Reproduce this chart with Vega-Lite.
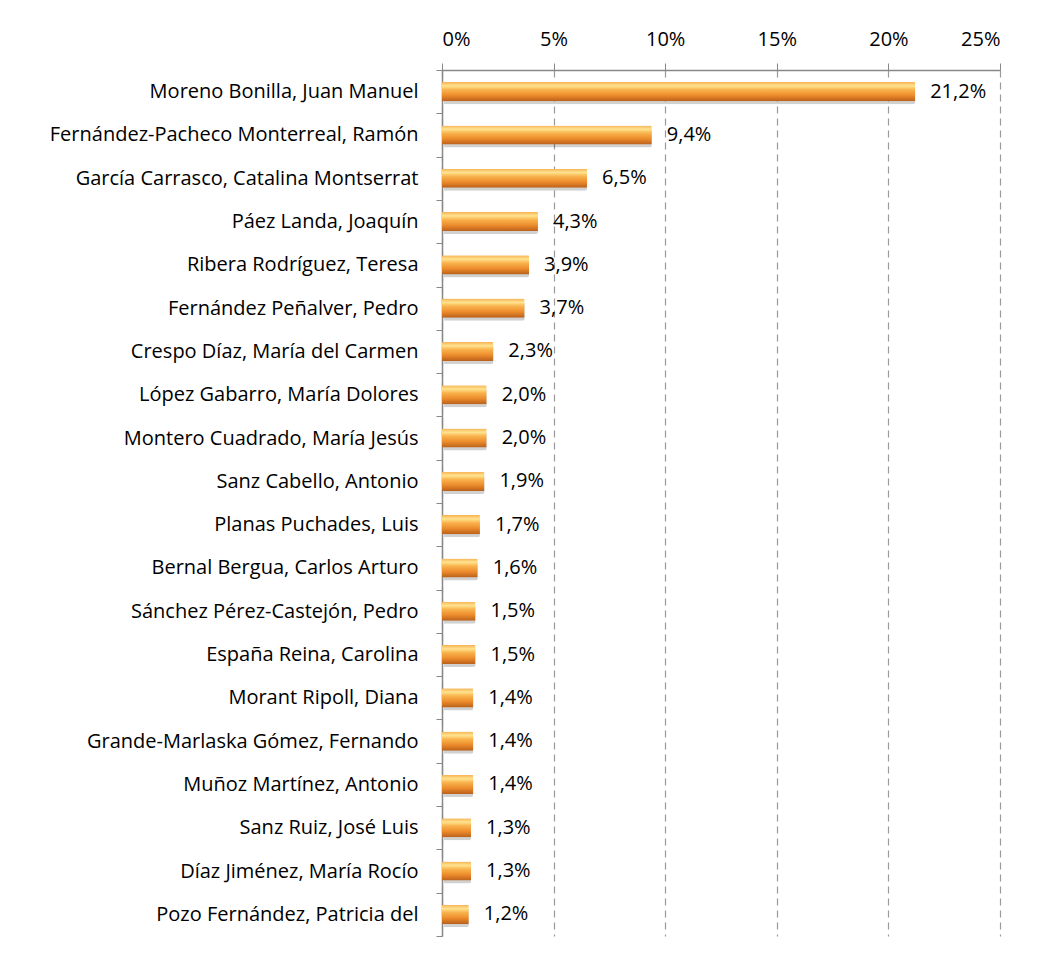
{
  "$schema": "https://vega.github.io/schema/vega-lite/v6.json",
  "width": 558,
  "height": 866,
  "autosize": {"type": "none"},
  "padding": {"left": 442, "top": 70, "right": 38, "bottom": 21},
  "background": "white",
  "config": {
    "locale": {"number": {"decimal": ",", "thousands": ".", "grouping": [3], "currency": ["", " €"]}},
    "view": {"stroke": null},
    "font": "Open Sans"
  },
  "data": {
    "values": [
      {"name": "Moreno Bonilla, Juan Manuel", "v": 0.212},
      {"name": "Fernández-Pacheco Monterreal, Ramón", "v": 0.094},
      {"name": "García Carrasco, Catalina Montserrat", "v": 0.065},
      {"name": "Páez Landa, Joaquín", "v": 0.043},
      {"name": "Ribera Rodríguez, Teresa", "v": 0.039},
      {"name": "Fernández Peñalver, Pedro", "v": 0.037},
      {"name": "Crespo Díaz, María del Carmen", "v": 0.023},
      {"name": "López Gabarro, María Dolores", "v": 0.020},
      {"name": "Montero Cuadrado, María Jesús", "v": 0.020},
      {"name": "Sanz Cabello, Antonio", "v": 0.019},
      {"name": "Planas Puchades, Luis", "v": 0.017},
      {"name": "Bernal Bergua, Carlos Arturo", "v": 0.016},
      {"name": "Sánchez Pérez-Castejón, Pedro", "v": 0.015},
      {"name": "España Reina, Carolina", "v": 0.015},
      {"name": "Morant Ripoll, Diana", "v": 0.014},
      {"name": "Grande-Marlaska Gómez, Fernando", "v": 0.014},
      {"name": "Muñoz Martínez, Antonio", "v": 0.014},
      {"name": "Sanz Ruiz, José Luis", "v": 0.013},
      {"name": "Díaz Jiménez, María Rocío", "v": 0.013},
      {"name": "Pozo Fernández, Patricia del", "v": 0.012}
    ]
  },
  "encoding": {
    "y": {
      "field": "name", "type": "nominal", "sort": null, "title": null,
      "scale": {"paddingInner": 0, "paddingOuter": 0},
      "axis": {
        "tickBand": "extent", "tickSize": 6, "tickColor": "#888888", "domainColor": "#888888",
        "domainWidth": 1.5, "labelPadding": 18, "labelFontSize": 20, "labelColor": "#000000",
        "labelFont": "Open Sans", "grid": false, "labelLimit": 500
      }
    },
    "x": {
      "field": "v", "type": "quantitative", "title": null,
      "scale": {"domain": [0, 0.25], "nice": false},
      "axis": {
        "orient": "top", "format": "0%", "values": [0, 0.05, 0.1, 0.15, 0.2, 0.25],
        "tickSize": 7, "tickColor": "#888888", "domainColor": "#888888", "domainWidth": 1.5,
        "labelPadding": 14, "labelFontSize": 20, "labelColor": "#000000", "labelFont": "Open Sans",
        "grid": true, "gridColor": "#999999", "gridDash": [7, 5], "gridWidth": 1.2
      }
    }
  },
  "layer": [
    {
      "mark": {"type": "bar", "height": {"band": 0.44}, "color": "#000000", "opacity": 0.18, "xOffset": 2, "yOffset": 3, "cornerRadius": 2}
    },
    {
      "mark": {
        "type": "bar", "height": {"band": 0.44}, "cornerRadius": 1,
        "color": {
          "gradient": "linear", "x1": 0, "y1": 0, "x2": 0, "y2": 1,
          "stops": [
            {"offset": 0, "color": "#F7B253"},
            {"offset": 0.2, "color": "#FFE38F"},
            {"offset": 0.4, "color": "#F9B34C"},
            {"offset": 0.7, "color": "#EC8B2C"},
            {"offset": 1, "color": "#B9601A"}
          ]
        }
      }
    },
    {
      "mark": {"type": "text", "align": "left", "baseline": "middle", "dx": 15, "fontSize": 20, "font": "Open Sans", "color": "#000000"},
      "encoding": {"text": {"field": "v", "type": "quantitative", "format": ".1%"}}
    }
  ]
}
